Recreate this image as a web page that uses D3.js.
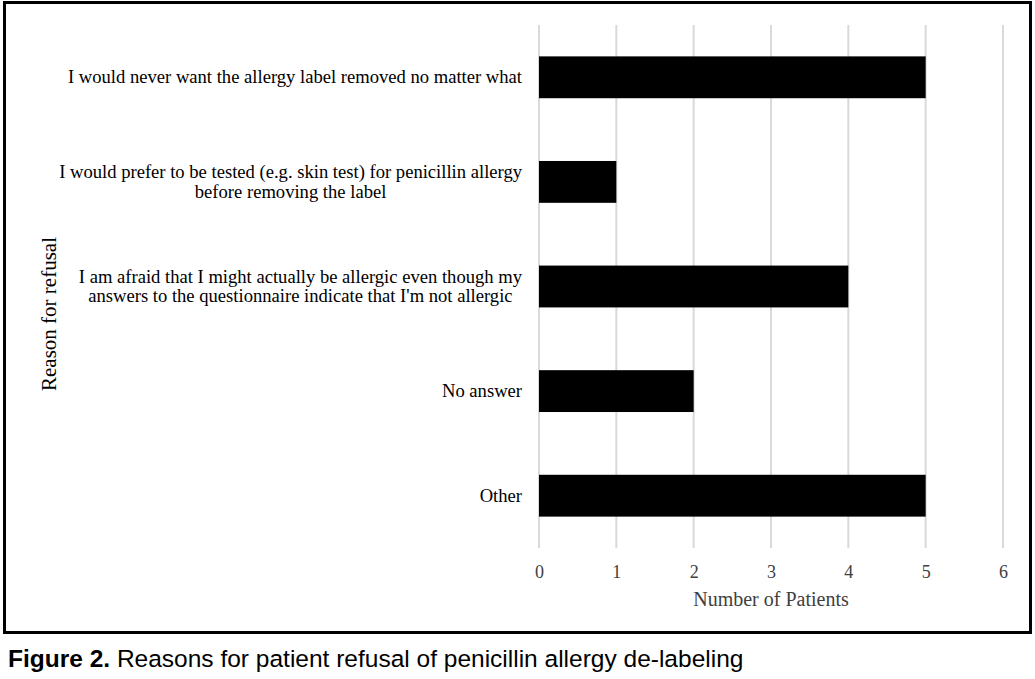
<!DOCTYPE html>
<html>
<head>
<meta charset="utf-8">
<script src="https://cdn.jsdelivr.net/npm/d3@7/dist/d3.min.js"></script>
<style>
  html, body { margin: 0; padding: 0; background: #fff; }
  svg { display: block; }
</style>
</head>
<body>
<svg id="chart" width="1035" height="679"></svg>
<script>
const categories = [
  ["I would never want the allergy label removed no matter what"],
  ["I would prefer to be tested (e.g. skin test) for penicillin allergy", "before removing the label"],
  ["I am afraid that I might actually be allergic even though my", "answers to the questionnaire indicate that I'm not allergic"],
  ["No answer"],
  ["Other"]
];
const values = [5, 1, 4, 2, 5];
const xTicks = [0, 1, 2, 3, 4, 5, 6];
const xTitle = "Number of Patients";
const yTitle = "Reason for refusal";
const captionBold = "Figure 2.";
const captionRest = " Reasons for patient refusal of penicillin allergy de-labeling";

const svg = d3.select("#chart");
const serif = "'Liberation Serif', 'Times New Roman', serif";
const sans = "'Liberation Sans', Arial, sans-serif";

const m = { left: 539, right: 1003, top: 25, bottom: 548 };

const x = d3.scaleLinear().domain([0, 6]).range([m.left, m.right]);
const y = d3.scaleBand().domain(d3.range(categories.length)).range([m.top, m.bottom]).paddingInner(0.6).paddingOuter(0.3);

// frame
svg.append("rect").attr("x", 4.5).attr("y", 2.5).attr("width", 1026).attr("height", 630)
  .attr("fill", "none").attr("stroke", "#000").attr("stroke-width", 3);

// gridlines
svg.append("g").selectAll("line").data(xTicks).join("line")
  .attr("x1", d => x(d)).attr("x2", d => x(d))
  .attr("y1", m.top).attr("y2", m.bottom)
  .attr("stroke", "#d9d9d9").attr("stroke-width", 2);

// bars
svg.append("g").selectAll("rect").data(values).join("rect")
  .attr("x", x(0))
  .attr("y", (d, i) => y(i))
  .attr("width", d => x(d) - x(0))
  .attr("height", y.bandwidth())
  .attr("fill", "#000");

// x axis
const xAxis = d3.axisBottom(x).tickValues(xTicks).tickSize(0).tickPadding(0).tickFormat(d3.format("d"));
const gx = svg.append("g").attr("transform", `translate(0,${m.bottom + 30})`).call(xAxis);
gx.select(".domain").remove();
gx.selectAll("text").attr("font-family", serif).attr("font-size", 18).attr("fill", "#404040").attr("dy", 0);

svg.append("text").attr("x", (x(0) + x(6)) / 2).attr("y", 606)
  .attr("text-anchor", "middle").attr("font-family", serif).attr("font-size", 20).attr("fill", "#404040")
  .text(xTitle);

// y labels
const labelRight = 522;
const lineH = 19.5;
categories.forEach((lines, i) => {
  const cy = y(i) + y.bandwidth() / 2;
  const g = svg.append("g");
  const t = g.append("text").attr("font-family", serif).attr("font-size", 18.6).attr("fill", "#000");
  lines.forEach((ln, j) => {
    t.append("tspan").attr("y", cy + (j - (lines.length - 1) / 2) * lineH + 6).text(ln);
  });
  let maxW = 0;
  t.selectAll("tspan").each(function() { maxW = Math.max(maxW, this.getComputedTextLength()); });
  t.attr("text-anchor", "middle");
  t.selectAll("tspan").attr("x", labelRight - maxW / 2);
});

// y title
svg.append("text").attr("transform", `translate(56,314) rotate(-90)`)
  .attr("text-anchor", "middle").attr("font-family", serif).attr("font-size", 21).attr("fill", "#000")
  .text(yTitle);

// caption
const cap = svg.append("text").attr("x", 8).attr("y", 667).attr("font-family", sans).attr("font-size", 24.5).attr("fill", "#000");
cap.append("tspan").attr("font-weight", "bold").text(captionBold);
cap.append("tspan").text(captionRest);
</script>
</body>
</html>
